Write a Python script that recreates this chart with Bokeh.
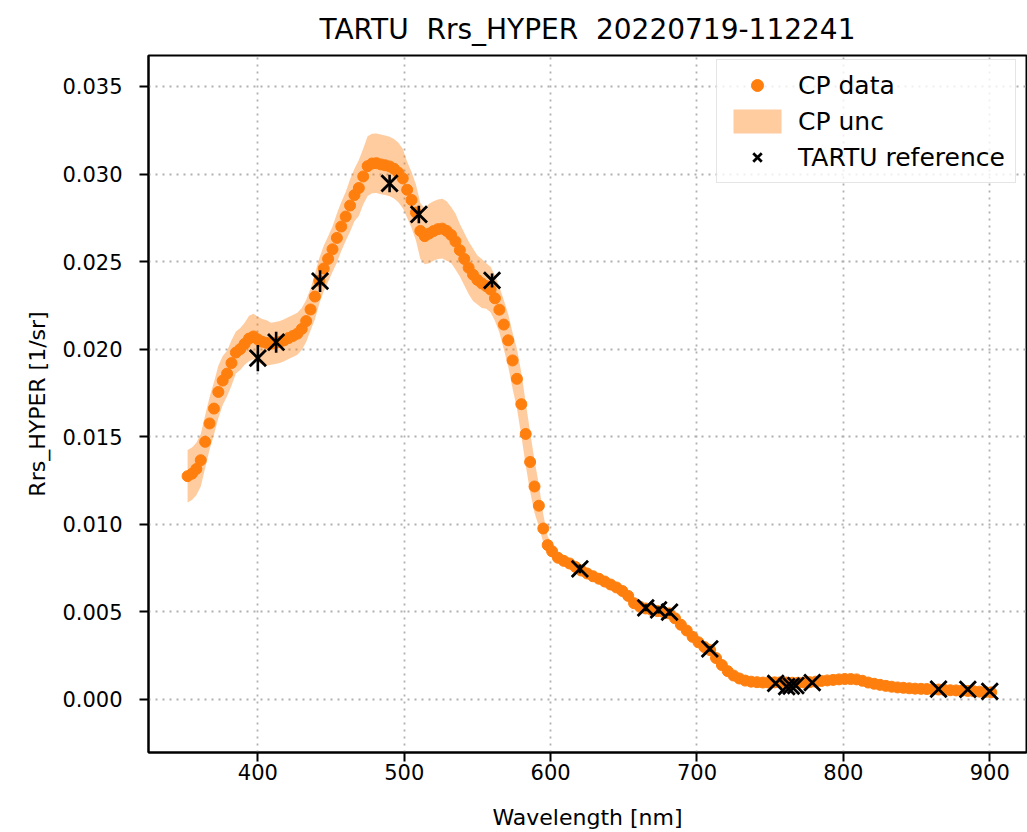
from bokeh.plotting import figure
from bokeh.models import (ColumnDataSource, Range1d, FixedTicker, NumeralTickFormatter,
                          Legend, LegendItem)
from bokeh.embed import file_html
from bokeh.resources import INLINE

# ---------------- data ----------------
cp_wl = [352, 355, 358, 361, 364, 367, 370, 373, 376, 379, 382, 385, 388, 391, 394, 397,
         400, 403, 406, 409, 412, 415, 418, 421, 424, 427, 430, 433, 436, 439, 442, 445,
         448, 451, 454, 457, 460, 463, 466, 469, 472, 475, 478, 481, 484, 487, 490, 493,
         496, 499, 502, 505, 508, 511, 514, 517, 520, 523, 526, 529, 532, 535, 538, 541,
         544, 547, 550, 553, 556, 559, 562, 565, 568, 571, 574, 577, 580, 583, 586, 589,
         592, 595, 598,
         601, 605, 609, 613, 617, 621, 625, 629, 633, 637, 641, 645, 649, 653, 657, 661,
         665, 669, 673, 677, 681, 685, 689, 693, 697, 701, 705, 709, 713, 717, 721, 725,
         729, 733, 737, 741, 745, 749, 753, 757, 761, 765, 769, 773, 777, 781, 785, 789,
         793, 797, 801, 805, 809, 813, 817, 821, 825, 829, 833, 837, 841, 845, 849, 853,
         857, 861, 865, 869, 873, 877, 881, 885, 889, 893, 897, 901]

cp_rrs = [0.01274, 0.01288, 0.01315, 0.01365, 0.01470, 0.01575, 0.01660, 0.01755, 0.01820,
          0.01860, 0.01920, 0.01980, 0.02000, 0.02030, 0.02060, 0.02072, 0.02055, 0.02042,
          0.02035, 0.02030, 0.02035, 0.02040, 0.02050, 0.02063, 0.02075, 0.02088, 0.02115,
          0.02160, 0.02226, 0.02300, 0.02390, 0.02460, 0.02515, 0.02570, 0.02635, 0.02700,
          0.02757, 0.02820, 0.02880, 0.02920, 0.02986, 0.03045, 0.03060, 0.03062, 0.03055,
          0.03050, 0.03043, 0.03030, 0.03008, 0.02975, 0.02910, 0.02852, 0.02780, 0.02675,
          0.02645, 0.02660, 0.02674, 0.02685, 0.02688, 0.02675, 0.02652, 0.02615, 0.02565,
          0.02515, 0.02465, 0.02425, 0.02395, 0.02375, 0.02360, 0.02340, 0.02290, 0.02225,
          0.02140, 0.02050, 0.01935, 0.01830, 0.01685, 0.01515, 0.01355, 0.01215, 0.01105,
          0.00975, 0.00880,
          0.00845, 0.00808, 0.00790, 0.00775, 0.00755, 0.00735, 0.00718, 0.00702, 0.00688,
          0.00672, 0.00655, 0.00638, 0.00618, 0.00590, 0.00548, 0.00528, 0.00518, 0.00510,
          0.00503, 0.00498, 0.00490, 0.00462, 0.00425, 0.00392, 0.00356, 0.00325, 0.00298,
          0.00280, 0.00235, 0.00195, 0.00160, 0.00135, 0.00118, 0.00106, 0.00100, 0.00097,
          0.00095, 0.00095, 0.00096, 0.00096, 0.00095, 0.00094, 0.00094, 0.00095, 0.00097,
          0.00100, 0.00104, 0.00107, 0.00110, 0.00113, 0.00115, 0.00115, 0.00113, 0.00105,
          0.00095, 0.00088, 0.00082, 0.00076, 0.00071, 0.00067, 0.00065, 0.00062, 0.00060,
          0.00059, 0.00058, 0.00057, 0.00055, 0.00053, 0.00051, 0.00050, 0.00048, 0.00047,
          0.00045, 0.00043, 0.00041, 0.00039]

cp_unc = [0.0015, 0.0015, 0.0015, 0.0015, 0.0015, 0.0015, 0.0015, 0.0015, 0.0014, 0.0013,
          0.0013, 0.0012, 0.0012, 0.0012, 0.0013, 0.0013, 0.0013, 0.0013, 0.0013, 0.0012,
          0.0012, 0.0012, 0.0012, 0.0012, 0.0012, 0.0012, 0.0012, 0.0012, 0.0012, 0.0013,
          0.0013, 0.0013, 0.0013, 0.0013, 0.0014, 0.0014, 0.0014, 0.0015, 0.0015, 0.0016,
          0.0016, 0.0017, 0.0017, 0.0017, 0.0017, 0.0017, 0.0017, 0.0017, 0.0017, 0.0017,
          0.0016, 0.0016, 0.0016, 0.0016, 0.0016, 0.0017, 0.0017, 0.0017, 0.0017, 0.0017,
          0.0016, 0.0016, 0.0015, 0.0015, 0.0015, 0.0015, 0.0014, 0.0014, 0.0013, 0.0013,
          0.0013, 0.0013, 0.0014, 0.0015, 0.0016, 0.0017, 0.0018, 0.0018, 0.0017, 0.0015,
          0.0012, 0.0008, 0.0005,
          0.0004, 0.0003, 0.0003, 0.0003, 0.0003, 0.0003, 0.0003, 0.0003, 0.0003, 0.0003,
          0.0003, 0.0003, 0.00025, 0.00025, 0.00025, 0.00025, 0.0002, 0.0002, 0.0002,
          0.0002, 0.0002, 0.0002, 0.0002, 0.0002, 0.0002, 0.0002, 0.00015, 0.00015, 0.00015,
          0.00015, 0.00015, 0.00015, 0.00015, 0.0001, 0.0001, 0.0001, 0.0001, 0.0001, 0.0001,
          0.0001, 0.0001, 0.0001, 0.0001, 0.0001, 0.0001, 0.0001, 0.0001, 0.0001, 0.0001,
          0.0001, 0.0001, 0.0001, 0.0001, 0.0001, 0.0001, 0.0001, 0.0001, 0.0001, 0.0001,
          0.0001, 0.0001, 0.0001, 0.0001, 0.0001, 0.0001, 0.0001, 0.0001, 0.0001, 0.0001,
          0.0001, 0.0001, 0.0001, 0.0001, 0.0001, 0.0001, 0.0001, 0.0001]

ref_wl = [400, 412.5, 442.5, 490, 510, 560, 620, 665, 673.75, 681.25, 708.75,
          753.75, 761.25, 764.375, 767.5, 778.75, 865, 885, 900]
ref_rrs = [0.01948, 0.02039, 0.02388, 0.02946, 0.02769, 0.02392, 0.00744, 0.00522,
           0.00510, 0.00497, 0.00287, 0.00090, 0.00072, 0.00075, 0.00078, 0.00094,
           0.00057, 0.00056, 0.00045]
ref_err = [0.00075, 0.00060, 0.00062, 0.00050, 0.00050, 0.00040, 0.00025, 0.00020,
           0.00020, 0.00020, 0.00015, 0.00010, 0.00010, 0.00010, 0.00010, 0.00010,
           0.00010, 0.00010, 0.00010]

x_ticks = [400, 500, 600, 700, 800, 900]
y_ticks = [0.000, 0.005, 0.010, 0.015, 0.020, 0.025, 0.030, 0.035]

title_text = "TARTU \u00a0Rrs_HYPER \u00a020220719-112241"
x_label = "Wavelength [nm]"
y_label = "Rrs_HYPER [1/sr]"

# ---------------- sources ----------------
cp_src = ColumnDataSource(dict(
    wl=cp_wl, rrs=cp_rrs,
    lower=[r - u for r, u in zip(cp_rrs, cp_unc)],
    upper=[r + u for r, u in zip(cp_rrs, cp_unc)],
))
ref_src = ColumnDataSource(dict(
    wl=ref_wl, rrs=ref_rrs,
    lo=[r - e for r, e in zip(ref_rrs, ref_err)],
    hi=[r + e for r, e in zip(ref_rrs, ref_err)],
))

FONT = "DejaVu Sans"
ORANGE = "#ff7f0e"

p = figure(width=1027, height=832, output_backend="svg", toolbar_location=None,
           x_range=Range1d(325.3, 925.1), y_range=Range1d(-0.003047, 0.03677),
           min_border_left=148, min_border_right=1, min_border_top=54,
           min_border_bottom=80, title=title_text)
p.background_fill_color = "white"
p.border_fill_color = "white"
p.outline_line_color = "black"
p.outline_line_width = 2

p.title.align = "center"
p.title.text_font = FONT
p.title.text_font_size = "28px"
p.title.text_font_style = "normal"
p.title.text_color = "black"
p.title.standoff = 20

p.xaxis.ticker = FixedTicker(ticks=x_ticks)
p.yaxis.ticker = FixedTicker(ticks=y_ticks)
p.yaxis.formatter = NumeralTickFormatter(format="0.000")
p.xaxis.axis_label = x_label
p.yaxis.axis_label = y_label

for ax in (p.xaxis, p.yaxis):
    ax.axis_line_color = "black"
    ax.axis_line_width = 2
    ax.major_tick_line_color = "black"
    ax.major_tick_line_width = 2
    ax.major_tick_in = 0
    ax.major_tick_out = 9
    ax.minor_tick_line_color = None
    ax.major_label_text_font = FONT
    ax.major_label_text_font_size = "21px"
    ax.major_label_text_color = "black"
    ax.axis_label_text_font = FONT
    ax.axis_label_text_font_size = "22px"
    ax.axis_label_text_font_style = "normal"
    ax.axis_label_text_color = "black"
p.xaxis.major_label_standoff = 2
p.xaxis.axis_label_standoff = 22
p.yaxis.major_label_standoff = 17
p.yaxis.axis_label_standoff = 9

p.grid.grid_line_color = "#b0b0b0"
p.grid.grid_line_width = 1.8
p.grid.grid_line_dash = "2 5"

band = p.varea(x="wl", y1="lower", y2="upper", source=cp_src,
               fill_color=ORANGE, fill_alpha=0.4)
dots = p.scatter("wl", "rrs", source=cp_src, size=11, marker="circle",
                 fill_color=ORANGE, line_color=ORANGE)
p.segment(x0="wl", y0="lo", x1="wl", y1="hi", source=ref_src,
          line_color="black", line_width=2.6)
xs = p.scatter("wl", "rrs", source=ref_src, marker="x", size=23,
               line_color="black", line_width=2.8)

legend = Legend(items=[
    LegendItem(label="CP data", renderers=[dots]),
    LegendItem(label="CP unc", renderers=[band]),
    LegendItem(label="TARTU reference", renderers=[xs]),
], location=(568, 569))
legend.label_text_font = FONT
legend.label_text_font_size = "25px"
legend.label_text_color = "black"
legend.glyph_width = 60
legend.glyph_height = 30
legend.label_standoff = 11
legend.spacing = 6
legend.padding = 10
legend.margin = 0
legend.border_line_color = "#cccccc"
legend.border_line_width = 1.5
legend.background_fill_color = "white"
legend.background_fill_alpha = 0.8
p.add_layout(legend)

open("out.html", "w").write(file_html(p, INLINE))
